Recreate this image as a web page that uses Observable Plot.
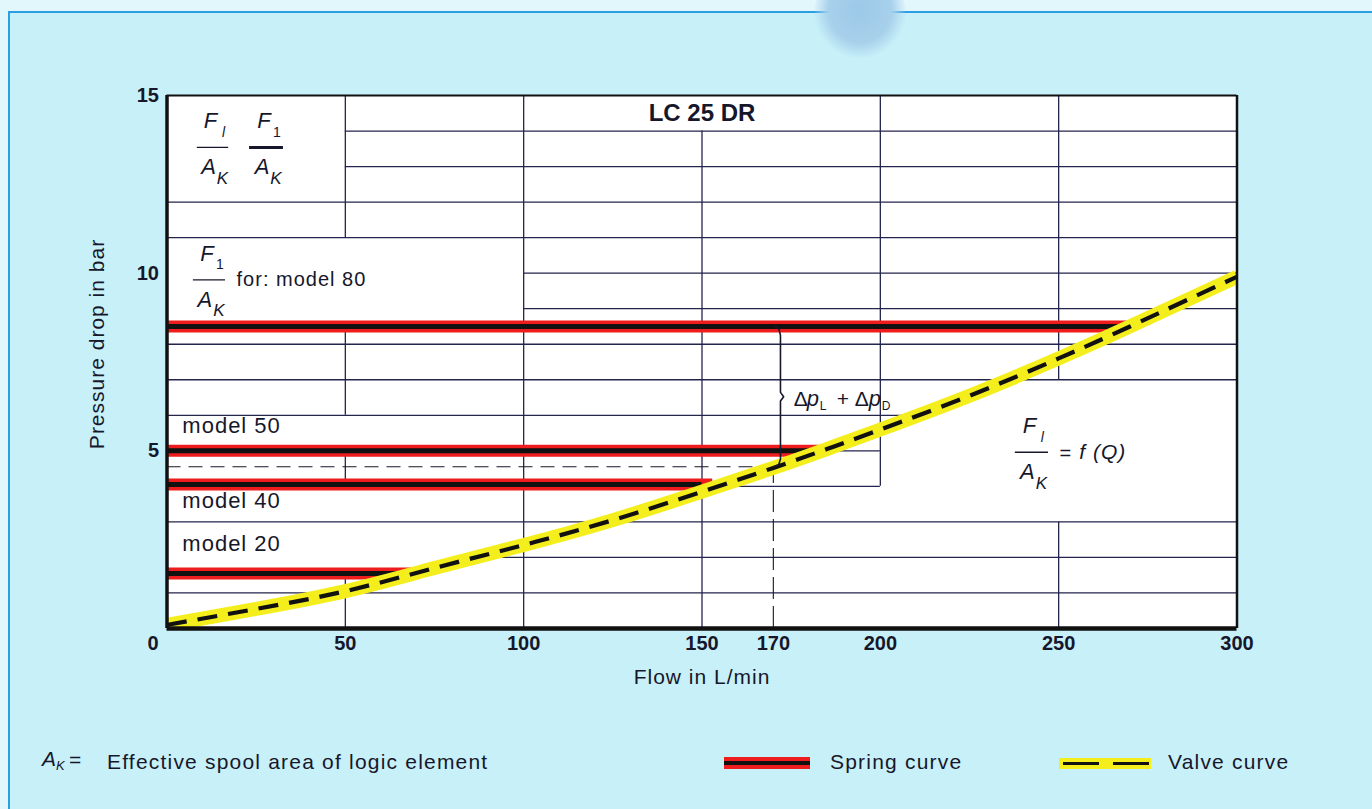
<!DOCTYPE html>
<html><head><meta charset="utf-8">
<script src="https://cdn.jsdelivr.net/npm/d3@7"></script>
<script src="https://cdn.jsdelivr.net/npm/@observablehq/plot@0.6"></script>
<style>
html,body{margin:0;padding:0;background:#fff;}
#page{position:relative;width:1372px;height:809px;overflow:hidden;background:#e2f7fc;font-family:"Liberation Sans",Arial,Helvetica,sans-serif;color:#17172b;}
#panel{position:absolute;left:8px;top:11px;right:0;bottom:0;background:#c8f0f9;border-top:2px solid #2a9fe2;border-left:2px solid #2a9fe2;}
#blob{position:absolute;left:814px;top:-30px;width:92px;height:88px;border-radius:50%;background:radial-gradient(ellipse at 50% 45%,#9cc9e8 0%,#a7d0eb 48%,rgba(200,240,249,0) 72%);}
#chart{position:absolute;left:0;top:0;}
#chart svg text{letter-spacing:1px;}
#chart svg g[font-weight="bold"] text{letter-spacing:0;}
.leg{position:absolute;font-size:21px;letter-spacing:1.2px;line-height:21px;white-space:nowrap;color:#17172b;}
</style></head>
<body>
<div id="page">
  <div id="panel"></div>
  <div id="blob"></div>
  <div id="chart"></div>
  <div class="leg" style="left:42px;top:748px;font-style:italic;font-size:21px;">A</div>
  <div class="leg" style="left:56px;top:759px;font-style:italic;font-size:13px;line-height:13px;">K</div>
  <div class="leg" style="left:69px;top:749px;">=</div>
  <div class="leg" style="left:107px;top:751px;">Effective spool area of logic element</div>
  <svg style="position:absolute;left:724px;top:757px" width="86" height="12">
    <rect width="86" height="12" fill="#ee1c1c"></rect>
    <line x1="0" x2="86" y1="6" y2="6" stroke="#111" stroke-width="4"></line>
  </svg>
  <div class="leg" style="left:830px;top:751px;">Spring curve</div>
  <svg style="position:absolute;left:1059px;top:758px" width="92" height="11">
    <rect width="92" height="11" fill="#f4ef1c"></rect>
    <line x1="4" x2="92" y1="5.5" y2="5.5" stroke="#111" stroke-width="3" stroke-dasharray="36,14"></line>
  </svg>
  <div class="leg" style="left:1168px;top:751px;">Valve curve</div>
</div>
<script>
// ---- data ----
const flow      = [0, 25, 50, 75, 100, 125, 150, 170, 185, 200, 225, 250, 270, 300];
const valveDrop = [0.1, 0.55, 1.05, 1.7, 2.35, 3.05, 3.85, 4.52, 5.05, 5.6, 6.55, 7.6, 8.5, 9.9];

const models     = ["model 80", "model 50", "model 40", "model 20"];
const springDrop = [8.5, 5.0, 4.05, 1.55];
const springEnd  = [270, 184, 153, 69];

const xTicks = [50, 100, 150, 170, 200, 250, 300];
const yTicks = [5, 10, 15];

const operatingFlow = 170;
const operatingDrop = 4.55;

// nomogram grid (with interruptions for the label boxes)
const hGridY    = [14, 13, 12, 11, 10, 9, 8, 7, 6, 5, 4, 3, 2, 1];
const hGridFrom = [50, 50, 0, 0, 100, 100, 0, 0, 0, 0, 0, 0, 88, 0];
const hGridTo   = [300, 300, 300, 300, 300, 300, 300, 300, 210, 200, 200, 300, 300, 300];
const vGridX    = [50, 50, 50, 50, 100, 150, 200, 250, 250];
const vGridFrom = [11, 6, 4.05, 0, 0, 0, 4, 7, 0];
const vGridTo   = [15, 8.5, 5, 1.55, 15, 14, 15, 15, 3];

// ---- tables ----
const valve   = flow.map((q, i) => ({q, p: valveDrop[i]}));
const springs = models.map((m, i) => ({model: m, p: springDrop[i], end: springEnd[i]}));
const hGrid   = hGridY.map((y, i) => ({y, x1: hGridFrom[i], x2: hGridTo[i]}));
const vGrid   = vGridX.map((x, i) => ({x, y1: vGridFrom[i], y2: vGridTo[i]}));

const ink = "#17172b", gridInk = "#24254c";

const fractions = [
  {x: 12.9,  y: 13.54, sub: "l", it: true,  w: 8.8, t: 1.3},
  {x: 27.9,  y: 13.54, sub: "1", it: false, w: 9.5, t: 3},
  {x: 11.9,  y: 9.81,  sub: "1", it: false, w: 9.0, t: 1.3},
  {x: 242.5, y: 4.96,  sub: "l", it: true,  w: 9.3, t: 1.3}
];
function fractionMarks(f) {
  return [
    Plot.ruleY([f], {y: "y", x1: d => d.x - d.w / 2, x2: d => d.x + d.w / 2, stroke: ink, strokeWidth: f.t}),
    Plot.text([f], {x: "x", y: "y", text: () => "F", dx: -2, dy: -26, fontStyle: "italic", fontSize: 22, fill: ink}),
    Plot.text([f], {x: "x", y: "y", text: "sub", dx: 11, dy: -15, fontStyle: f.it ? "italic" : "normal", fontSize: 14, fill: ink}),
    Plot.text([f], {x: "x", y: "y", text: () => "A", dx: -4, dy: 20, fontStyle: "italic", fontSize: 22, fill: ink}),
    Plot.text([f], {x: "x", y: "y", text: () => "K", dx: 10, dy: 31, fontStyle: "italic", fontSize: 17, fill: ink})
  ];
}

// Δp_L + Δp_D label pieces (pixel offsets from the label start)
const dpAnchor = {x: 175.7, y: 6.46};
const dpPieces = [
  {t: "Δ", dx: 0,  dy: 0, s: 21, it: false},
  {t: "p", dx: 13, dy: 0, s: 22, it: true},
  {t: "L", dx: 26, dy: 7, s: 12, it: false},
  {t: "+", dx: 43, dy: 0, s: 21, it: false},
  {t: "Δ", dx: 61, dy: 0, s: 21, it: false},
  {t: "p", dx: 75, dy: 0, s: 22, it: true},
  {t: "D", dx: 88, dy: 7, s: 12, it: false}
];

// brace between spring level of model 80 and the operating point
const bx = operatingFlow + 2, bTop = springDrop[0], bBot = operatingDrop, bMid = (bTop + bBot) / 2;
const brace = [
  [bx - 1.5, bTop], [bx - 0.4, bTop - 0.08], [bx, bTop - 0.25],
  [bx, bMid + 0.12], [bx + 0.9, bMid], [bx, bMid - 0.12],
  [bx, bBot + 0.22], [bx - 0.5, bBot + 0.06], [bx - 1.8, bBot]
].map(([x, y]) => ({x, y}));

const labels = [{x: 150, y: 14.5, t: "LC 25 DR"}];
const modelLabels = [
  {x: 4.3, y: 5.71, t: "model 50"},
  {x: 4.3, y: 3.6,  t: "model 40"},
  {x: 4.3, y: 2.39, t: "model 20"}
];

const plot = Plot.plot({
  width: 1372, height: 700,
  marginLeft: 166.5, marginRight: 135.5, marginTop: 95, marginBottom: 72,
  x: {domain: [0, 300], axis: null},
  y: {domain: [0, 15], axis: null},
  style: {background: "transparent", fontFamily: "'Liberation Sans', Arial, Helvetica, sans-serif", color: ink, overflow: "visible"},
  marks: [
    Plot.frame({fill: "white", stroke: "none"}),
    Plot.ruleY(hGrid, {y: "y", x1: "x1", x2: "x2", stroke: gridInk, strokeWidth: 1.3}),
    Plot.ruleX(vGrid, {x: "x", y1: "y1", y2: "y2", stroke: gridInk, strokeWidth: 1.3}),
    // operating point guides
    Plot.ruleY([operatingDrop], {x1: 0, x2: operatingFlow, stroke: ink, strokeWidth: 1.1, strokeDasharray: "14,8"}),
    Plot.ruleX([operatingFlow], {y1: 0, y2: operatingDrop, stroke: ink, strokeWidth: 1.1, strokeDasharray: "22,7"}),
    // spring curves
    Plot.ruleY(springs, {y: "p", x1: 0, x2: "end", stroke: "#ee1c1c", strokeWidth: 12}),
    Plot.ruleY(springs, {y: "p", x1: 0, x2: d => d.end - 3, stroke: "#111", strokeWidth: 5}),
    // valve curve
    Plot.line(valve, {x: "q", y: "p", curve: "natural", stroke: "#f4ef1c", strokeWidth: 14, clip: true, strokeLinecap: "butt"}),
    Plot.line(valve, {x: "q", y: "p", curve: "natural", stroke: "#111", strokeWidth: 4.2, strokeDasharray: "20,11", clip: true, strokeLinecap: "butt"}),
    // brace
    Plot.line(brace, {x: "x", y: "y", stroke: ink, strokeWidth: 1.6, curve: "linear"}),
    // chart frame
    Plot.ruleY([15], {stroke: "#111", strokeWidth: 2}),
    Plot.ruleX([300], {stroke: "#111", strokeWidth: 2.5}),
    Plot.ruleX([0], {stroke: "#111", strokeWidth: 3.5}),
    Plot.ruleY([0], {stroke: "#111", strokeWidth: 4.5}),
    // ticks
    Plot.text(xTicks, {x: d => d, frameAnchor: "bottom", lineAnchor: "middle", dy: 15, fontWeight: "bold", fontSize: 20, fill: ink}),
    Plot.text(yTicks, {y: d => d, frameAnchor: "left", lineAnchor: "middle", dx: -8, textAnchor: "end", fontWeight: "bold", fontSize: 20, fill: ink}),
    Plot.text(["0"], {frameAnchor: "bottom-left", lineAnchor: "middle", textAnchor: "middle", dx: -14, dy: 15, fontWeight: "bold", fontSize: 20, fill: ink}),
    // axis titles
    Plot.text(["Flow in L/min"], {frameAnchor: "bottom", lineAnchor: "middle", dy: 49, fontSize: 21, fill: ink}),
    Plot.text(["Pressure drop in bar"], {frameAnchor: "left", textAnchor: "middle", lineAnchor: "middle", dx: -70, dy: -18, rotate: -90, fontSize: 21, fill: ink}),
    // annotations
    Plot.text(labels, {x: "x", y: "y", text: "t", fontWeight: "bold", fontSize: 24, fill: ink}),
    Plot.text(modelLabels, {x: "x", y: "y", text: "t", textAnchor: "start", fontSize: 22, fill: ink}),
    Plot.text(["for: model 80"], {x: 19.5, y: 9.83, textAnchor: "start", fontSize: 20, fill: ink}),
    ...fractions.flatMap(fractionMarks),
    Plot.text(["="], {x: 250.2, y: 4.96, textAnchor: "start", fontSize: 20, dy: 1, fill: ink}),
    Plot.text(["f (Q)"], {x: 255.8, y: 4.96, textAnchor: "start", fontSize: 21, fontStyle: "italic", fill: ink}),
    ...dpPieces.map(p => Plot.text([p], {x: () => dpAnchor.x, y: () => dpAnchor.y, text: "t", dx: p.dx, dy: p.dy, textAnchor: "start", fontSize: p.s, fontStyle: p.it ? "italic" : "normal", fill: ink}))
  ]
});
document.getElementById("chart").appendChild(plot);
</script>
</body></html>
